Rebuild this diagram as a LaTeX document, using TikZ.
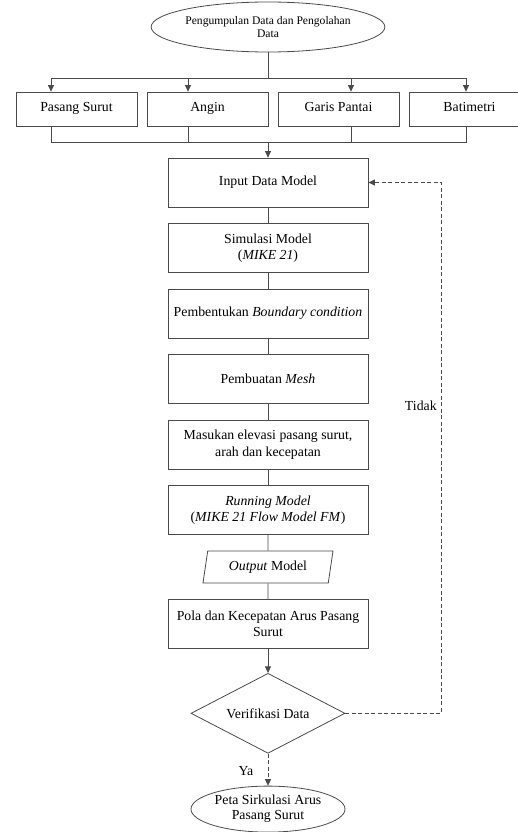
\documentclass[tikz,border=0pt]{standalone}
\usepackage{fontspec}
\setmainfont{Liberation Serif}
\usepackage{tikz}
\usetikzlibrary{arrows.meta,positioning,shapes.geometric}
\definecolor{Edge}{HTML}{4A4A4A}
\tikzset{
  procbox/.style={draw=Edge, line width=0.8pt, fill=white, align=center, minimum width=200pt, minimum height=49pt, inner sep=2pt, font=\fontsize{13.8}{16.5}\selectfont},
  databox/.style={procbox, minimum width=121pt, minimum height=34pt, text height=1.5ex, text depth=.3ex},
  terminal/.style={draw=Edge, line width=0.8pt, ellipse, align=center, inner sep=0pt, font=\fontsize{13.8}{15}\selectfont},
  iobox/.style={draw=Edge, line width=0.8pt, trapezium, trapezium left angle=72, trapezium right angle=108, trapezium stretches body, minimum width=130pt, minimum height=32pt, inner sep=1pt, font=\fontsize{13.8}{16.5}\selectfont},
  decision/.style={draw=Edge, line width=0.8pt, diamond, aspect=1.92, minimum width=154pt, minimum height=80pt, inner sep=0pt, font=\fontsize{13.8}{16.5}\selectfont},
  line/.style={draw=Edge, line width=0.8pt},
  arrow/.style={line, -{Triangle[length=6.5pt,width=6pt]}},
  dashedarrow/.style={arrow, dash pattern=on 4pt off 2.5pt}
}
\begin{document}
\begin{tikzpicture}[x=1pt, y=1pt, node distance=15.7pt]
  \useasboundingbox (0,0) rectangle (518,-832);
  \clip (0,0) rectangle (518,-832);

  \node[terminal, minimum width=200pt, minimum height=50pt, font=\fontsize{11.6}{13}\selectfont] (collect) at (268,-27) {Pengumpulan Data dan Pengolahan\\Data};

  \node[databox] (pasang) at (76.5,-109) {Pasang Surut};
  \node[databox] (angin) at (207.5,-109) {Angin};
  \node[databox] (garis) at (338.5,-109) {Garis Pantai};
  \node[databox] (batimetri) at (469.5,-109) {Batimetri};
  \coordinate (split) at (268,-78);
  \coordinate (merge) at (268,-142);

  \node[procbox] (input) at (268,-182.5) {Input Data Model};
  \node[procbox, below=of input] (simulasi) {Simulasi Model\\(\textit{MIKE 21})};
  \node[procbox, below=of simulasi] (boundary) {Pembentukan \textit{Boundary condition}};
  \node[procbox, below=of boundary] (mesh) {Pembuatan \textit{Mesh}};
  \node[procbox, below=of mesh] (elevasi) {Masukan elevasi pasang surut,\\arah dan kecepatan};
  \node[procbox, below=of elevasi] (running) {\textit{Running Model}\\(\textit{MIKE 21 Flow Model FM})};
  \node[iobox, below=of running] (output) {\textit{Output} Model};
  \node[procbox, below=of output] (pola) {Pola dan Kecepatan Arus Pasang\\Surut};
  \node[decision, below=24pt of pola] (verif) {Verifikasi Data};
  \node[terminal, below=32pt of verif, minimum width=154pt, minimum height=46pt] (peta) {Peta Sirkulasi Arus\\Pasang Surut};

  \draw[line] (collect) -- (split);
  \foreach \n/\s in {pasang/-25.5, angin/-19.5, garis/12.5, batimetri/-3.5} {
    \draw[arrow] (split) -| ([xshift=\s pt]\n.north);
    \draw[line] ([xshift=\s pt]\n.south) |- (merge);
  }
  \draw[arrow] (merge) -- (input);
  \draw[line] (input) -- (simulasi);
  \draw[line] (simulasi) -- (boundary);
  \draw[line] (boundary) -- (mesh);
  \draw[line] (mesh) -- (elevasi);
  \draw[line] (elevasi) -- (running);
  \draw[line] (running) -- (output);
  \draw[line] (output) -- (pola);
  \draw[arrow] (pola) -- (verif);
  \draw[dashedarrow] (verif) -- node[pos=0.55, left=11pt, font=\fontsize{13.8}{16.5}\selectfont]{Ya} (peta);
  \draw[dashedarrow] (verif.east) -| node[pos=0.79, left=1pt, font=\fontsize{13.8}{16.5}\selectfont]{Tidak} ([xshift=73pt]input.east) -- (input.east);
\end{tikzpicture}
\end{document}
